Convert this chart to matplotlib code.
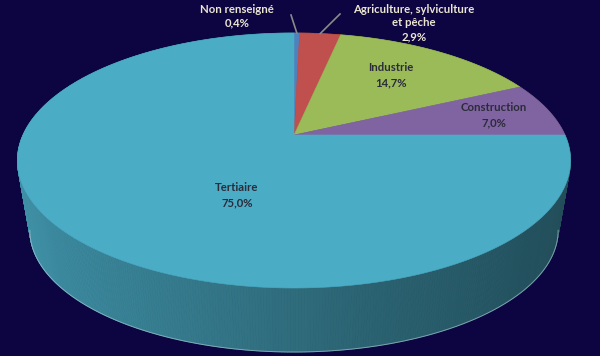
import numpy as np
import matplotlib.pyplot as plt
from matplotlib.patches import Polygon
from matplotlib.collections import PolyCollection
from matplotlib.colors import to_rgb

# ---------- DATA ----------
sectors = ["Non renseigné", "Agriculture, sylviculture\net pêche", "Industrie",
           "Construction", "Tertiaire"]
shares = [0.4, 2.9, 14.7, 7.0, 75.0]
pct_labels = ["0,4%", "2,9%", "14,7%", "7,0%", "75,0%"]
colors = ["#4F81BD", "#C0504D", "#9BBB59", "#8064A2", "#4BACC6"]

BG = "#0c0542"

# ---------- 3D PIE GEOMETRY (pixel space) ----------
CX, CY = 294, 135      # pie centre on screen
RX, RY = 271, 122.4    # radii before perspective
PERSP = 0.2            # far side shrinks
VP_Y = 1711            # vanishing point below the disc
BOT_SCALE = 0.955      # bottom face is a bit smaller (further away)


def project(theta, r=1.0):
    # theta: radians clockwise from 12 o'clock (Excel style)
    u = r * np.sin(theta)
    v = r * np.cos(theta)
    w = 1 + PERSP * v
    return CX + RX * u / w, CY - RY * v / w


def project_bottom(theta):
    x, y = project(theta)
    return CX + (x - CX) * BOT_SCALE, VP_Y + (y - VP_Y) * BOT_SCALE


def shade(theta):
    # lighter on the left, darker on the right
    u = np.sin(theta)
    return np.interp(u, [-1, -0.3, 0.2, 1], [0.85, 0.7, 0.58, 0.44])


fracs = np.array(shares) / np.sum(shares)
edges = np.concatenate([[0], np.cumsum(fracs)]) * 2 * np.pi

fig = plt.figure(figsize=(6, 3.56), dpi=100)
fig.patch.set_facecolor(BG)
ax = fig.add_axes([0, 0, 1, 1])
ax.set_facecolor(BG)
ax.set_xlim(0, 600)
ax.set_ylim(356, 0)
ax.axis("off")

# ---------- SIDE WALL ----------
quads, qcols, depth = [], [], []
for i, col in enumerate(colors):
    ts = np.linspace(edges[i], edges[i + 1], max(3, int(fracs[i] * 720)))
    base = np.array(to_rgb(col))
    for t0, t1 in zip(ts[:-1], ts[1:]):
        x0, y0 = project(t0)
        x1, y1 = project(t1)
        bx0, by0 = project_bottom(t0)
        bx1, by1 = project_bottom(t1)
        quads.append([(x0, y0), (x1, y1), (bx1, by1), (bx0, by0)])
        c = np.clip(base * shade(0.5 * (t0 + t1)), 0, 1)
        qcols.append(c)
        depth.append(-np.cos(0.5 * (t0 + t1)))
order = np.argsort(depth)
side = PolyCollection([quads[k] for k in order],
                      facecolors=[qcols[k] for k in order],
                      edgecolors=[qcols[k] for k in order], linewidths=0.6)
ax.add_collection(side)

# faint light rim along the visible lower edge
t_lim = np.arccos(-PERSP)
rim = np.linspace(t_lim, 2 * np.pi - t_lim, 200)
bx, by = project_bottom(rim)
ax.plot(bx, by, color="#9fc3cc", lw=0.7, alpha=0.7)

# ---------- TOP FACE ----------
for i, col in enumerate(colors):
    ts = np.linspace(edges[i], edges[i + 1], max(3, int(fracs[i] * 720)))
    xs, ys = project(ts)
    pts = [(CX, CY)] + list(zip(xs, ys))
    ax.add_patch(Polygon(pts, closed=True, facecolor=col, edgecolor=col, lw=0.4))

# ---------- LABELS ----------
font = dict(family=["Lato", "DejaVu Sans"], fontsize=8.2, fontweight="bold",
            ha="center", va="center")
inner_pos = {2: (391, 75), 3: (494, 115), 4: (237, 195)}
for i, (x, y) in inner_pos.items():
    ax.text(x, y, f"{sectors[i]}\n{pct_labels[i]}", color="#2b2b3a",
            linespacing=1.45, **font)

outer_pos = {0: (237, 16), 1: (414, 23)}
leader_end = {0: (291, 15), 1: (340, 14)}
for i, (x, y) in outer_pos.items():
    ax.text(x, y, f"{sectors[i]}\n{pct_labels[i]}", color="#ece6d2",
            linespacing=1.3, **font)
    mid = 0.5 * (edges[i] + edges[i + 1])
    px, py = project(mid)
    lx, ly = leader_end[i]
    ax.plot([lx, px], [ly, py], color="#8a8a8a", lw=1.2)

fig.savefig("out.png", dpi=100, facecolor=BG)
